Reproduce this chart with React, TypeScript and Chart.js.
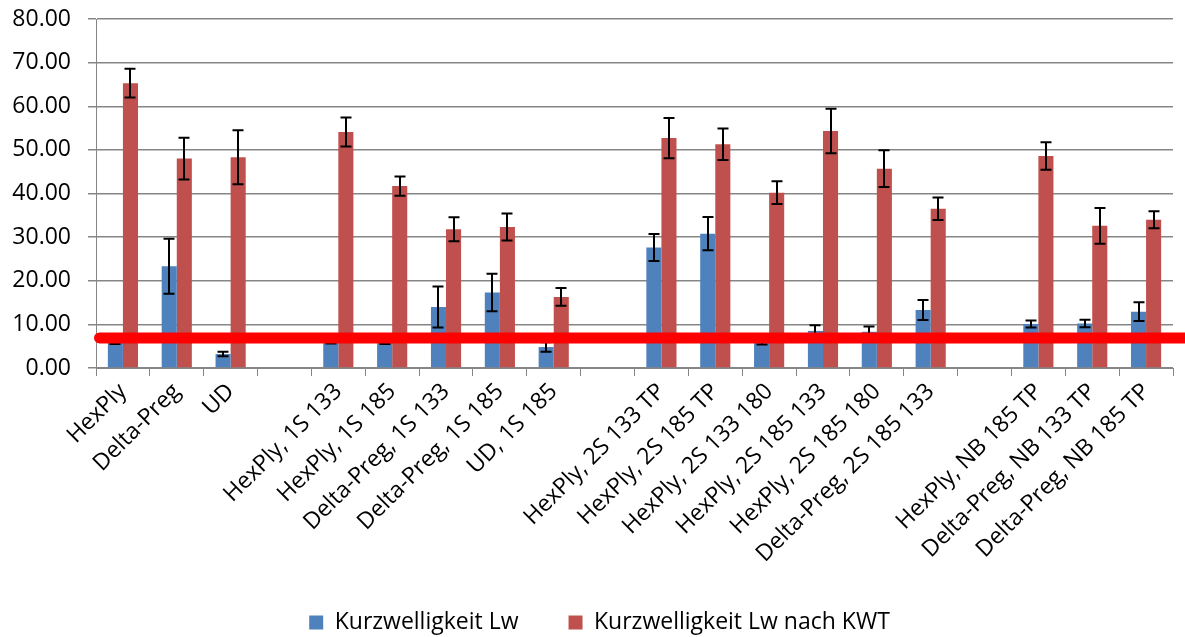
import React, { useEffect, useRef } from "react";
import { Chart, registerables } from "chart.js";

Chart.register(...registerables);

const categories: string[] = [
  "HexPly",
  "Delta-Preg",
  "UD",
  "",
  "HexPly, 1S 133",
  "HexPly, 1S 185",
  "Delta-Preg, 1S 133",
  "Delta-Preg, 1S 185",
  "UD, 1S 185",
  "",
  "HexPly, 2S 133 TP",
  "HexPly, 2S 185 TP",
  "HexPly, 2S 133 180",
  "HexPly, 2S 185 133",
  "HexPly, 2S 185 180",
  "Delta-Preg, 2S 185 133",
  "",
  "HexPly, NB 185 TP",
  "Delta-Preg, NB 133 TP",
  "Delta-Preg, NB 185 TP",
];

const seriesNames: string[] = ["Kurzwelligkeit Lw", "Kurzwelligkeit Lw nach KWT"];

const lwValues: (number | null)[] = [
  6.5, 23.3, 3.2, null, 6.6, 6.5, 14.0, 17.3, 4.8, null,
  27.6, 30.8, 6.4, 8.5, 8.3, 13.3, null, 10.1, 10.2, 12.9,
];
const lwErrors: (number | null)[] = [
  1.0, 6.3, 0.5, null, 1.0, 1.0, 4.7, 4.3, 1.1, null,
  3.1, 3.8, 1.0, 1.3, 1.2, 2.3, null, 0.8, 0.85, 2.15,
];
const kwtValues: (number | null)[] = [
  65.3, 48.0, 48.3, null, 54.1, 41.7, 31.8, 32.3, 16.3, null,
  52.7, 51.3, 40.2, 54.3, 45.7, 36.5, null, 48.6, 32.6, 34.0,
];
const kwtErrors: (number | null)[] = [
  3.3, 4.8, 6.2, null, 3.3, 2.2, 2.75, 3.1, 2.05, null,
  4.6, 3.6, 2.6, 5.1, 4.2, 2.6, null, 3.15, 4.1, 1.95,
];

const yTicks: number[] = [0, 10, 20, 30, 40, 50, 60, 70, 80];
const thresholdValue = 6.9;

const FONT = "'Open Sans', 'Noto Sans', sans-serif";

const errorBarPlugin = {
  id: "errorBars",
  afterDatasetsDraw(chart: any) {
    const ctx = chart.ctx;
    const yScale = chart.scales.y;
    const errs = [lwErrors, kwtErrors];
    const vals = [lwValues, kwtValues];
    ctx.save();
    ctx.strokeStyle = "#000000";
    ctx.lineWidth = 2;
    chart.data.datasets.forEach((_: any, di: number) => {
      const meta = chart.getDatasetMeta(di);
      meta.data.forEach((el: any, i: number) => {
        const v = vals[di][i];
        const e = errs[di][i];
        if (v == null || e == null) return;
        const x = Math.round(el.x);
        const yT = yScale.getPixelForValue(v + e);
        const yB = yScale.getPixelForValue(v - e);
        const cw = 5.5;
        ctx.beginPath();
        ctx.moveTo(x, yT);
        ctx.lineTo(x, yB);
        ctx.moveTo(x - cw, yT);
        ctx.lineTo(x + cw, yT);
        ctx.moveTo(x - cw, yB);
        ctx.lineTo(x + cw, yB);
        ctx.stroke();
      });
    });
    ctx.restore();
  },
};

const thresholdPlugin = {
  id: "thresholdLine",
  afterDraw(chart: any) {
    const ctx = chart.ctx;
    const yScale = chart.scales.y;
    const y = yScale.getPixelForValue(thresholdValue);
    ctx.save();
    ctx.strokeStyle = "#FF0000";
    ctx.lineWidth = 11;
    ctx.lineCap = "round";
    ctx.beginPath();
    ctx.moveTo(chart.chartArea.left + 3.5, y);
    ctx.lineTo(chart.width + 20, y);
    ctx.stroke();
    ctx.restore();
  },
};

const legendShiftPlugin = {
  id: "legendShift",
  afterLayout(chart: any) {
    const lg = chart.legend;
    if (lg) {
      lg.left += 9;
      lg.right += 9;
    }
  },
};

export default function App() {
  const ref = useRef<HTMLCanvasElement | null>(null);

  useEffect(() => {
    document.body.style.margin = "0";
    if (!ref.current) return;
    const chart = new Chart(ref.current, {
      type: "bar",
      data: {
        labels: categories,
        datasets: [
          {
            label: seriesNames[0],
            data: lwValues,
            backgroundColor: "#4F81BD",
            borderWidth: 0,
            categoryPercentage: 0.56,
            barPercentage: 1.0,
          },
          {
            label: seriesNames[1],
            data: kwtValues,
            backgroundColor: "#C0504D",
            borderWidth: 0,
            categoryPercentage: 0.56,
            barPercentage: 1.0,
          },
        ],
      },
      options: {
        animation: false,
        responsive: false,
        maintainAspectRatio: false,
        layout: { padding: { left: 8, right: 12, top: 19, bottom: -7 } },
        plugins: {
          legend: {
            position: "bottom",
            labels: {
              boxWidth: 14,
              boxHeight: 14,
              padding: 50,
              color: "#000000",
              font: { family: FONT, size: 23 },
            },
          },
          tooltip: { enabled: false },
        },
        scales: {
          x: {
            afterFit(scale: any) {
              scale.height = 193;
            },
            grid: {
              display: true,
              drawOnChartArea: false,
              offset: true,
              color: "#868686",
              tickLength: 8,
            },
            border: { color: "#868686", width: 1 },
            ticks: {
              maxRotation: 45,
              minRotation: 45,
              autoSkip: false,
              color: "#000000",
              font: { family: FONT, size: 23 },
              padding: 2,
            },
          },
          y: {
            min: 0,
            max: 80,
            afterBuildTicks(scale: any) {
              scale.ticks = yTicks.map((v) => ({ value: v }));
            },
            afterFit(scale: any) {
              scale.width = 88;
              scale.paddingTop = 0;
            },
            grid: {
              color: "#868686",
              lineWidth: 1.5,
              tickLength: 8,
            },
            border: { color: "#868686", width: 1 },
            ticks: {
              color: "#000000",
              font: { family: FONT, size: 23 },
              callback: (v: any) => Number(v).toFixed(2),
              padding: 17,
            },
          },
        },
      },
      plugins: [errorBarPlugin, thresholdPlugin, legendShiftPlugin],
    });
    return () => chart.destroy();
  }, []);

  return (
    <div style={{ width: 1185, height: 637 }}>
      <canvas ref={ref} width={1185} height={637} />
    </div>
  );
}
